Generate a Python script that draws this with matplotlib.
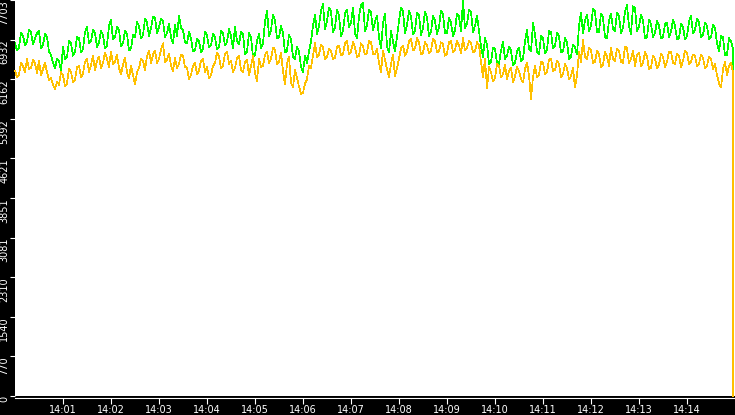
import numpy as np
import matplotlib
matplotlib.use('Agg')
import matplotlib.pyplot as plt

# Samples every 2.5 s from 14:00:00, plus a final sample where both series drop
step_s = 2.5
end_s = 897.8

green = [6860, 6720, 6780, 7060, 7010, 6820, 6900, 7120, 7080, 6840, 6950, 7060, 7100, 6760, 6830, 7040, 6980, 6700, 6640, 6480,
         6380, 6560, 6520, 6320, 6800, 6560, 6600, 6900, 6860, 6620, 6700, 6980, 6960, 6680, 6750, 7080, 7180, 6860, 6900, 7120,
         7060, 6780, 6880, 7100, 7020, 6760, 6820, 7200, 7310, 6940, 6980, 7180, 7120, 6800, 6860, 7100, 7040, 6720, 6760, 7020,
         6980, 7280, 7200, 6960, 7020, 7340, 7260, 7000, 7150, 7380, 7360, 7060, 7180, 7340, 7300, 6980, 7060, 7240, 6980, 6860,
         7220, 7000, 7400, 7160, 7120, 6880, 6860, 7080, 6960, 6700, 6720, 6940, 6900, 6680, 6760, 7080, 7020, 6780, 6820, 7040,
         6980, 6740, 6780, 7100, 7060, 6820, 6880, 7140, 7000, 6760, 7180, 6900, 6850, 7080, 7040, 6640, 6700, 7060, 6980, 6600,
         6640, 6900, 7040, 6760, 6860, 7280, 7500, 7000, 7120, 7420, 7300, 6960, 6980, 7200, 7060, 6680, 6720, 7020, 6940, 6600,
         6560, 6800, 6700, 6400, 6300, 6620, 6480, 6700, 6900, 7200, 7420, 7040, 7200, 7500, 7620, 7140, 7300, 7560, 7480, 7080,
         7160, 7520, 7400, 7000, 7100, 7440, 7520, 7180, 7260, 7560, 7060, 6960, 7380, 7600, 7640, 7100, 7200, 7520, 7460, 7120,
         7280, 7400, 6980, 6760, 7250, 7440, 6800, 6680, 7100, 6900, 6700, 6980, 7300, 7560, 7480, 7060, 7220, 7500, 7380, 7040,
         7100, 7460, 7420, 7020, 7160, 7480, 7360, 7000, 7080, 7400, 7300, 7040, 7180, 7500, 7420, 7060, 7060, 7360, 7260, 7000,
         7120, 7440, 7380, 7100, 7680, 7160, 7240, 7520, 7460, 7080, 7200, 7400, 7100, 6800, 6600, 6960, 6840, 6460, 6500, 6780,
         6760, 6480, 6460, 6720, 6880, 6560, 6620, 6800, 6720, 6440, 6480, 6700, 6780, 6520, 6560, 6900, 7120, 6760, 6700, 7260,
         7040, 6700, 6640, 7000, 6960, 6660, 6740, 7100, 7080, 6760, 6820, 7060, 7000, 6680, 6700, 6960, 6880, 6560, 6600, 6840,
         6780, 6640, 7200, 7460, 7060, 7300, 7420, 7100, 7200, 7540, 7480, 7080, 7080, 7440, 7360, 6980, 6960, 7300, 7440, 7140,
         7100, 7460, 7380, 7060, 7160, 7480, 7600, 7200, 7040, 7580, 7540, 7100, 7180, 7420, 7300, 6960, 6980, 7320, 7240, 6980,
         7060, 7300, 7200, 6960, 6980, 7240, 7260, 6980, 7080, 7320, 7200, 6940, 6960, 7240, 7180, 6940, 7000, 7280, 7400, 7060,
         7120, 7340, 7260, 6980, 7020, 7260, 7200, 6940, 6980, 7220, 7160, 6860, 6700, 7000, 6980, 6620, 6640, 6960, 6900, 6760,
         3100]

orange = [6330, 6200, 6250, 6480, 6420, 6300, 6560, 6360, 6380, 6540, 6470, 6280, 6520, 6240, 6360, 6480, 6300, 6140, 6180, 6060,
          5960, 6120, 6050, 6300, 6240, 6020, 6080, 6360, 6310, 6100, 6150, 6400, 6420, 6200, 6270, 6500, 6560, 6300, 6440, 6620,
          6330, 6520, 6600, 6380, 6480, 6680, 6560, 6400, 6700, 6460, 6500, 6640, 6380, 6260, 6450, 6580, 6300, 6180, 6420, 6240,
          6060, 6300, 6380, 6560, 6520, 6340, 6610, 6720, 6480, 6640, 6720, 6480, 6560, 6740, 6860, 6500, 6540, 6660, 6420, 6320,
          6580, 6380, 6460, 6640, 6620, 6400, 6390, 6160, 6250, 6420, 6480, 6260, 6330, 6520, 6560, 6300, 6400, 6180, 6240, 6420,
          6480, 6680, 6600, 6380, 6420, 6660, 6700, 6460, 6520, 6300, 6380, 6580, 6620, 6340, 6300, 6500, 6540, 6240, 6420, 6620,
          6280, 6120, 6560, 6400, 6420, 6640, 6700, 6480, 6560, 6780, 6740, 6460, 6500, 6680, 6320, 6060, 6460, 6600, 6100, 6000,
          6340, 6180, 6020, 5880, 5900, 6080, 6160, 6420, 6380, 6620, 6860, 6600, 6640, 6840, 6780, 6560, 6600, 6760, 6720, 6560,
          6580, 6800, 6820, 6620, 6650, 6860, 6900, 6640, 6700, 6880, 6780, 6600, 6620, 6860, 6800, 6640, 6680, 6900, 6880, 6660,
          6640, 6760, 6480, 6300, 6720, 6540, 6360, 6200, 6460, 6640, 6220, 6380, 6560, 6760, 6820, 6620, 6700, 6900, 6940, 6720,
          6760, 6960, 6880, 6640, 6680, 6880, 6820, 6660, 6720, 6940, 6900, 6680, 6700, 6880, 6840, 6620, 6660, 6880, 6900, 6680,
          6740, 6900, 6820, 6660, 6960, 6720, 6780, 6900, 6860, 6680, 6700, 6880, 6820, 6500, 6200, 6560, 5980, 6400, 6300, 6120,
          6180, 6460, 6420, 6200, 6260, 6440, 6160, 6320, 6380, 6100, 6220, 6400, 6320, 6160, 6100, 6360, 6480, 6240, 5780, 6200,
          6420, 6200, 6240, 6500, 6480, 6260, 6300, 6540, 6560, 6320, 6340, 6520, 6460, 6200, 6260, 6460, 6380, 6160, 6220, 6380,
          6000, 6240, 6700, 6500, 6920, 6600, 6560, 6780, 6720, 6480, 6500, 6720, 6640, 6400, 6440, 6700, 6600, 6420, 6780, 6560,
          6520, 6760, 6720, 6500, 6480, 6800, 6760, 6480, 6560, 6720, 6420, 6640, 6680, 6420, 6480, 6700, 6600, 6360, 6380, 6620,
          6560, 6380, 6440, 6660, 6600, 6400, 6500, 6700, 6700, 6480, 6460, 6660, 6620, 6400, 6520, 6720, 6680, 6460, 6500, 6640,
          6620, 6420, 6460, 6640, 6580, 6380, 6420, 6600, 6560, 6360, 6460, 6240, 6080, 6000, 6360, 6500, 6240, 6420, 6480, 6300,
          0]

y_max = 7703
y_labels = ['0', '770', '1540', '2310', '3081', '3851', '4621',
            '5392', '6162', '6932', '7703']
x_labels = ['14:01', '14:02', '14:03', '14:04', '14:05', '14:06', '14:07',
            '14:08', '14:09', '14:10', '14:11', '14:12', '14:13', '14:14']

# seconds since 14:00:00
t = list(np.arange(len(green) - 1) * step_s) + [end_s]

W, H = 735, 415
fig = plt.figure(figsize=(W / 100, H / 100), dpi=100, facecolor='black')
ax = fig.add_axes([15 / W, 19 / H, 720 / W, 396 / H], facecolor='white')

ax.plot(t, green, color='#00ff00', lw=0.5, antialiased=False, zorder=2)
ax.plot(t, orange, color='#ffc000', lw=0.5, antialiased=False, zorder=3,
        clip_on=False)

ax.set_xlim(0, 900)
ax.set_ylim(0, y_max)

ax.set_xticks([60 * (k + 1) for k in range(len(x_labels))])
ax.set_xticklabels(x_labels)
ax.set_yticks(np.linspace(0, y_max, len(y_labels)))
ax.set_yticklabels(y_labels, rotation=90, va='top', ha='right')

for s in ['top', 'right', 'left']:
    ax.spines[s].set_visible(False)
ax.spines['bottom'].set_color('white')
ax.spines['bottom'].set_linewidth(0.8)
ax.spines['bottom'].set_position(('outward', 1.5))

ax.tick_params(axis='x', colors='white', length=4.3, width=0.8, pad=1,
               labelsize=7)
ax.tick_params(axis='y', colors='white', length=3.6, width=0.8, pad=0.5,
               labelsize=7)

fig.savefig('out.png', dpi=100, facecolor='black')
